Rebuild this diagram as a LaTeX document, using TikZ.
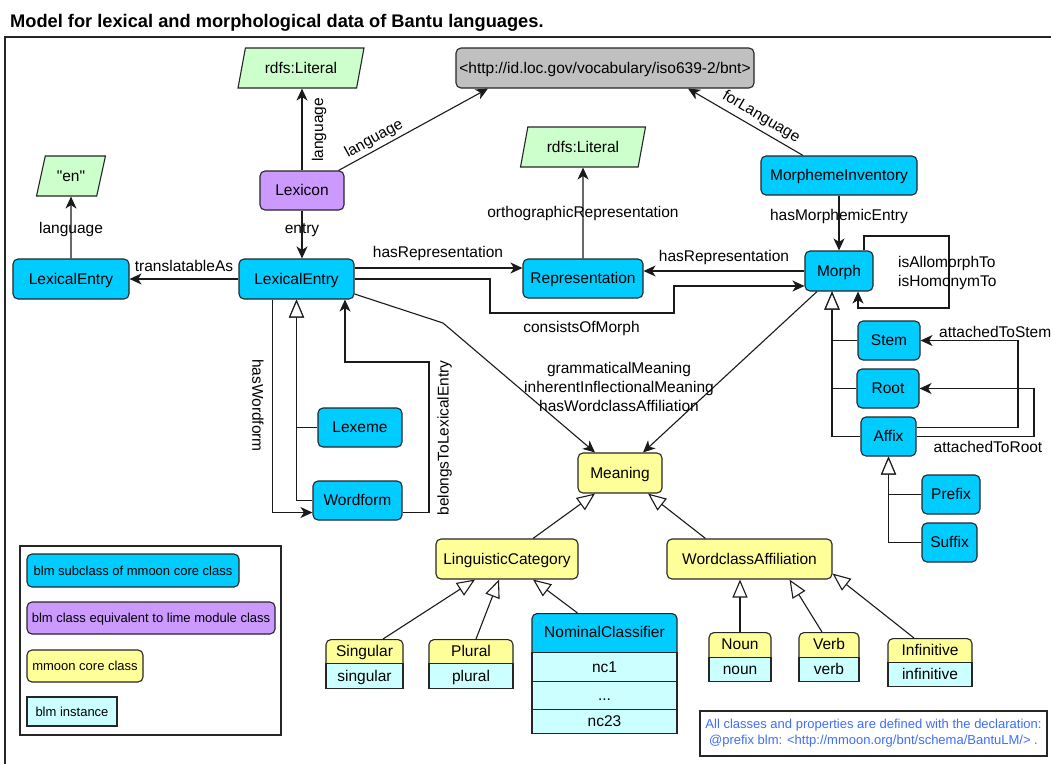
\documentclass[tikz,border=0pt]{standalone}
\usepackage{fontspec}
\setmainfont{Liberation Sans}[Ligatures=TeXOff]
\usetikzlibrary{arrows.meta,shapes.geometric,calc}
\definecolor{cyanF}{HTML}{00CCFF}
\definecolor{purpleF}{HTML}{CC99FF}
\definecolor{yellowF}{HTML}{FFFF99}
\definecolor{greenF}{HTML}{CCFFCC}
\definecolor{grayF}{HTML}{C0C0C0}
\definecolor{lcyanF}{HTML}{CCFFFF}
\definecolor{bdc}{HTML}{262626}
\definecolor{lnc}{HTML}{1A1A1A}
\definecolor{noteblue}{HTML}{3D6EFF}
\newcommand\splitbx[8]{%
  \node[ybx, minimum width=#4pt, minimum height=#5pt+6pt, anchor=north] (#1) at (#2,#3) {};
  \node[ibx, minimum width=#4pt, minimum height=#6pt, anchor=north] (#1i) at (#2,#3+#5) {#8};
  \node[txtc] (#1t) at (#2,#3+#5/2) {#7};
}
\tikzset{
  every node/.style={font=\fontsize{15.5}{19}\selectfont},
  txtc/.style={inner sep=0pt, text height=12pt, text depth=1.2pt},
  box/.style={draw=bdc, line width=1.1pt, rounded corners=5pt, inner sep=0pt, text height=12pt, text depth=1.2pt},
  cbx/.style={box, fill=cyanF},
  pbx/.style={box, fill=purpleF},
  ybx/.style={box, fill=yellowF},
  gbx/.style={box, fill=grayF},
  ibx/.style={draw=bdc, line width=1.1pt, fill=lcyanF, inner sep=0pt, text height=12pt, text depth=1.2pt},
  lit/.style={trapezium, trapezium left angle=70, trapezium right angle=110, trapezium stretches=true,
    draw=bdc, line width=1.1pt, fill=greenF, inner sep=0pt, text height=12pt, text depth=1.2pt},
  arr/.style={draw=lnc, line width=1.1pt, -{Stealth[length=12pt,width=11pt,inset=3.5pt]}},
  gen/.style={draw=lnc, line width=1.1pt, -{Triangle[open,length=18pt,width=15pt,fill=white]}},
  lbl/.style={inner sep=0pt},
  leg/.style={font=\fontsize{13}{16}\selectfont, text height=10pt, text depth=1pt},
}
\begin{document}
\begin{tikzpicture}[x=1pt,y=-1pt]
\useasboundingbox (0,0) rectangle (1051,763);
\clip (0,0) rectangle (1051,763);
\fill[white] (0,0) rectangle (1051,763);
\node[anchor=base west, inner sep=0pt, font=\bfseries\fontsize{18.25}{22}\selectfont] (title) at (10,27) {Model for lexical and morphological data of Bantu languages.};
\draw[draw=bdc, line width=1.2pt] (5,37) rectangle (1090,800);

% nodes
\node[lit, minimum width=127pt, minimum height=40pt] (lit1) at (301,68) {rdfs:Literal};
\node[gbx, minimum width=298pt, minimum height=40pt] (uri) at (605,68) {<http://id.loc.gov/vocabulary/iso639-2/bnt>};
\node[pbx, minimum width=84pt, minimum height=39pt] (lex) at (302,190.5) {Lexicon};
\node[lit, minimum width=126pt, minimum height=40pt] (lit2) at (583,147) {rdfs:Literal};
\node[cbx, minimum width=156pt, minimum height=39pt] (mi) at (839,175.5) {MorphemeInventory};
\node[lit, minimum width=69pt, minimum height=40pt] (en) at (71,176) {"en"};
\node[cbx, minimum width=116pt, minimum height=40pt] (le2) at (71,279) {LexicalEntry};
\node[cbx, minimum width=115pt, minimum height=40pt] (le) at (296.5,279) {LexicalEntry};
\node[cbx, minimum width=120pt, minimum height=39pt] (rep) at (583,278.5) {Representation};
\node[cbx, minimum width=68pt, minimum height=40pt] (morph) at (839,271) {Morph};
\node[cbx, minimum width=62pt, minimum height=39pt] (stem) at (889,340.5) {Stem};
\node[cbx, minimum width=62pt, minimum height=39pt] (root) at (888,388.5) {Root};
\node[cbx, minimum width=55pt, minimum height=39pt] (affix) at (888.5,436.5) {Affix};
\node[cbx, minimum width=58pt, minimum height=39pt] (prefix) at (951,494.5) {Prefix};
\node[cbx, minimum width=55pt, minimum height=39pt] (suffix) at (949.5,542.5) {Suffix};
\node[cbx, minimum width=84pt, minimum height=39pt] (lexeme) at (360,427.5) {Lexeme};
\node[cbx, minimum width=89pt, minimum height=39pt] (wordform) at (357.5,500.5) {Wordform};
\node[ybx, minimum width=84pt, minimum height=40pt] (meaning) at (620,473) {Meaning};
\node[ybx, minimum width=142pt, minimum height=40pt] (lc) at (507,559) {LinguisticCategory};
\node[ybx, minimum width=165pt, minimum height=40pt] (wa) at (749.5,559) {WordclassAffiliation};

\splitbx{Sg}{364.5}{639}{77}{24}{25}{Singular}{singular}
\splitbx{Pl}{471}{639}{84}{24}{25}{Plural}{plural}
\splitbx{Nn}{740}{632}{62}{25}{24}{Noun}{noun}
\splitbx{Vb}{829}{632}{60}{25}{24}{Verb}{verb}
\splitbx{If}{930}{638}{84}{24}{24}{Infinitive}{infinitive}

\node[cbx, minimum width=145pt, minimum height=45pt, anchor=north] (NC) at (604.5,613) {};
\node[txtc] (NCt) at (604.5,632.5) {NominalClassifier};
\node[ibx, minimum width=145pt, minimum height=29pt, anchor=north] (nc1) at (604.5,652) {nc1};
\node[ibx, minimum width=145pt, minimum height=28pt, anchor=north] (ncd) at (604.5,681) {...};
\node[ibx, minimum width=145pt, minimum height=24pt, anchor=north] (nc23) at (604.5,709) {nc23};

% legend
\node[draw=bdc, line width=1.1pt, minimum width=261pt, minimum height=189pt, inner sep=0pt] (legend) at (150.5,640.5) {};
\node[cbx, leg, minimum width=212pt, minimum height=33pt] (L1) at (133,570.5) {blm subclass of mmoon core class};
\node[pbx, leg, minimum width=248pt, minimum height=32pt] (L2) at (151,618) {blm class equivalent to lime module class};
\node[ybx, leg, minimum width=116pt, minimum height=32pt] (L3) at (85,666) {mmoon core class};
\node[ibx, leg, minimum width=90pt, minimum height=29pt] (L4) at (72,711.5) {blm instance};

\node[draw=bdc, line width=1.1pt, fill=white, minimum width=347pt, minimum height=45pt, align=center, inner sep=0pt,
  text=noteblue, font=\fontsize{13}{16}\selectfont] (note) at (873.5,733.5)
  {All classes and properties are defined with the declaration:\\ @prefix blm: <http://mmoon.org/bnt/schema/BantuLM/> .};

% edges
\draw[arr] (lex.north) -- (lex.north |- lit1.south);
\node[lbl, rotate=90] (l1) at (319,130) {language};
\draw[arr] ([xshift=-6pt]lex.north east) -- ([xshift=-117pt]uri.south);
\node[lbl, rotate=29] (l2) at (374,139) {language};
\draw[arr] ([xshift=-36pt]mi.north) -- ([xshift=83pt]uri.south);
\node[lbl, rotate=-30.6] (l3) at (761,117) {forLanguage};
\draw[arr] (lex.south) -- (lex.south |- le.north);
\node[lbl] (l4) at (302,230) {entry};
\draw[arr] (le.west) -- (le2.east);
\node[lbl] (l5) at (184,265.5) {translatableAs};
\draw[arr] (le2.north) -- (en.south);
\node[lbl] (l6) at (71,229) {language};
\draw[arr] (rep.north) -- (lit2.south);
\node[lbl] (l7) at (583,213.5) {orthographicRepresentation};
\draw[arr] ([yshift=11pt]le.east) -- ([yshift=11pt]le.east -| rep.west);
\node[lbl] (l8) at (438,253.5) {hasRepresentation};
\draw[arr] (morph.west) -- (morph.west -| rep.east);
\node[lbl] (l9) at (724,257) {hasRepresentation};
\draw[arr] (le.east) -| (490,313) -| (674,286) -- ([yshift=-15pt]morph.west);
\node[lbl] (l10) at (581.5,328.5) {consistsOfMorph};
\draw[arr] (mi.south) -- (morph.north);
\node[lbl] (l11) at (839,216) {hasMorphemicEntry};
\draw[arr] ([xshift=25pt]morph.north) |- (949,236) |- (858,308) -- ([xshift=19pt]morph.south);
\node[lbl, align=left, anchor=west, font=\fontsize{15.5}{19}\selectfont] (l12) at (898,272.5) {isAllomorphTo\\isHomonymTo};
\draw[gen] (stem.west) -| ([xshift=-7pt]morph.south);
\draw[gen] (root.west) -| ([xshift=-7pt]morph.south);
\draw[gen] (affix.west) -| ([xshift=-7pt]morph.south);
\draw[arr] ([yshift=9pt]affix.east) -| (1018,340.5) -- (stem.east);
\node[lbl, anchor=west] (l13) at (939,331.5) {attachedToStem};
\draw[arr] (affix.east) -| (1034,388.5) -- (root.east);
\node[lbl] (l14) at (988,447) {attachedToRoot};
\draw[gen] (prefix.west) -| (affix.south);
\draw[gen] (suffix.west) -| (affix.south);
\draw[gen] (lexeme.west) -| (le.south);
\draw[gen] (wordform.west) -| (le.south);
\draw[arr] ([xshift=-24pt]le.south) |- ([yshift=-12pt]wordform.west);
\node[lbl, rotate=-90] (l15) at (258,405.5) {hasWordform};
\draw[arr] ([yshift=-12pt]wordform.east) -| (429,362) -| ([xshift=48.5pt]le.south);
\node[lbl, rotate=90] (l16) at (444.5,438) {belongsToLexicalEntry};
\draw[arr] ([yshift=-15pt]le.east) -- (443,323) -- ([xshift=-25pt]meaning.north);
\draw[arr] ([xshift=-22pt]morph.south) -- ([xshift=23pt]meaning.north);
\node[lbl, align=center, font=\fontsize{15.5}{19}\selectfont] (l17) at (619,387) {grammaticalMeaning\\inherentInflectionalMeaning\\hasWordclassAffiliation};
\draw[gen] ([xshift=26pt]lc.north) -- ([xshift=-25pt]meaning.south);
\draw[gen] ([xshift=-44pt]wa.north) -- ([xshift=28pt]meaning.south);
\draw[gen] ([xshift=18.5pt]Sg.north) -- ([xshift=-32pt]lc.south);
\draw[gen] ([xshift=5pt]Pl.north) -- ([xshift=-8pt]lc.south);
\draw[gen] ([xshift=-27pt]NC.north) -- ([xshift=26pt]lc.south);
\draw[gen] (Nn.north) -- (Nn.north |- wa.south);
\draw[gen] ([xshift=-7pt]Vb.north) -- ([xshift=40pt]wa.south);
\draw[gen] ([xshift=-16pt]If.north) -- ([yshift=6pt]wa.south east);
\end{tikzpicture}
\end{document}
